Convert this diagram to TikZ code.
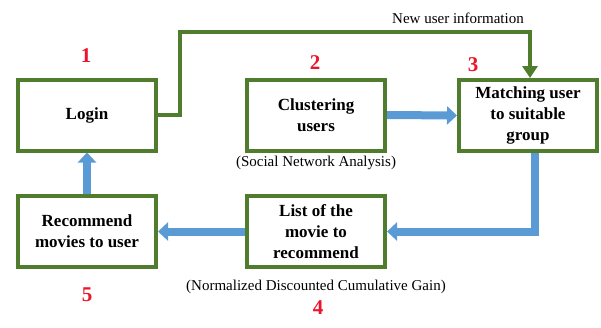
\documentclass[tikz,border=0pt]{standalone}
\usepackage{fontspec}
\setmainfont{Liberation Serif}
\usetikzlibrary{arrows.meta,positioning}
\definecolor{boxgreen}{RGB}{80,125,45}
\definecolor{flowblue}{RGB}{91,155,213}
\definecolor{steplabel}{RGB}{235,20,40}
\begin{document}
\begin{tikzpicture}[
  x=1pt, y=-1pt,
  stepbox/.style={draw=boxgreen, line width=4pt, fill=white, minimum width=138pt,
    minimum height=71pt, align=center, font=\fontsize{17}{21}\selectfont\bfseries},
  stepnum/.style={font=\fontsize{21}{21}\selectfont\bfseries, text=steplabel},
  caption/.style={font=\fontsize{15}{17}\selectfont},
  userflow/.style={draw=boxgreen, line width=4pt,
    -{Triangle[width=15pt, length=12pt]}},
  bluearrow/.style={draw=flowblue, line width=8pt,
    -{Triangle[width=18pt, length=10pt]}}
]
  \useasboundingbox (0,0) rectangle (601,327);

  % Top row of steps
  \node[stepbox] (login) at (87,115) {Login};
  \node[stepbox] (cluster) at (316,115) {Clustering\\users};
  \node[stepbox] (match) at (528,115.5) {Matching user\\to suitable\\group};

  % Bottom row of steps
  \node[stepbox] (recommend) at (87,231.5) {Recommend\\movies to user};
  \node[stepbox] (movielist) at (316,231.5) {List of the\\movie to\\recommend};

  % Step numbers
  \node[stepnum] (n1) at (86,56) {1};
  \node[stepnum] (n2) at (315,63) {2};
  \node[stepnum] (n3) at (473,65) {3};
  \node[stepnum] (n4) at (318,308) {4};
  \node[stepnum] (n5) at (87,295) {5};

  % Method captions under the middle boxes
  \node[caption] (sna) at (316,163) {(Social Network Analysis)};
  \node[caption] (ndcg) at (316,287) {(Normalized Discounted Cumulative Gain)};

  % New user path from login to the matching step
  \coordinate (topline) at (180,32);
  \draw[userflow] (login.east) -| (topline) -| ([xshift=2pt]match.north);
  \node[caption] (newuser) at (458,18) {New user information};

  % Blue process arrows
  \draw[bluearrow] (cluster.east) -- (match.west);
  \draw[bluearrow] ([xshift=7pt]match.south) |- (movielist.east);
  \draw[bluearrow] (movielist.west) -- (recommend.east);
  \draw[bluearrow] (recommend.north) -- (login.south);

\end{tikzpicture}
\end{document}
